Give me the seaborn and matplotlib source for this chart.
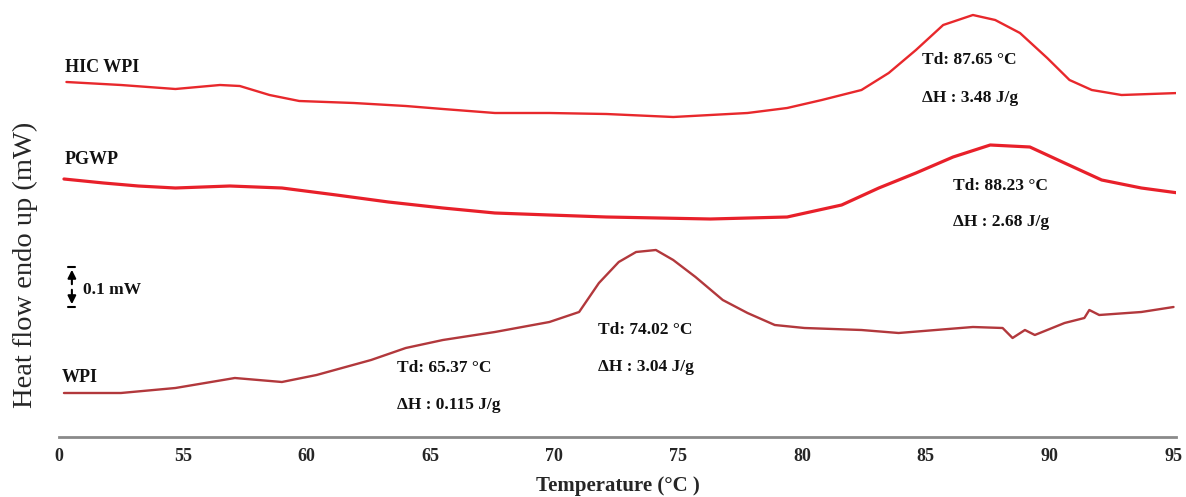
import matplotlib
matplotlib.use("Agg")
import matplotlib.pyplot as plt
import seaborn as sns

# ---- data (temperature in degC, heat flow in arbitrary plot units) ----
hic_temp = [50.3, 52.5, 54.7, 56.5, 57.3, 58.5, 59.7, 61.9, 64.0, 65.5, 67.6, 69.8,
            72.1, 74.8, 77.8, 79.4, 80.8, 82.4, 83.5, 84.6, 85.7, 86.9, 87.8, 88.8,
            89.9, 90.8, 91.7, 92.9, 95.2]
hic_flow = [355, 352, 348, 352, 351, 342, 336, 334, 331, 328, 324, 324,
            323, 320, 324, 329, 337, 347, 364, 387, 412, 422, 417, 404,
            379, 357, 347, 342, 344]

pgwp_temp = [50.2, 51.8, 53.2, 54.7, 56.9, 59.0, 61.2, 63.3, 65.5, 67.6, 69.8, 72.1,
             76.3, 79.4, 81.6, 83.1, 84.6, 86.1, 87.6, 89.2, 90.6, 92.1, 93.7, 95.2]
pgwp_flow = [258, 254, 251, 249, 251, 249, 242, 235, 229, 224, 222, 220,
             218, 220, 232, 249, 264, 280, 292, 290, 274, 257, 249, 244]

wpi_temp = [50.2, 52.5, 54.7, 57.1, 59.0, 60.4, 62.6, 64.0, 65.5, 67.6, 69.8, 71.0,
            71.8, 72.6, 73.3, 74.1, 74.8, 75.7, 76.8, 77.8, 78.9, 80.1, 82.4, 83.9,
            85.4, 86.9, 88.1, 88.5, 89.0, 89.4, 90.6, 91.4, 91.6, 92.0, 93.7, 95.0]
wpi_flow = [44, 44, 49, 59, 55, 62, 77, 89, 97, 105, 115, 125,
            154, 175, 185, 187, 177, 160, 137, 124, 112, 109, 107, 104,
            107, 110, 109, 99, 107, 102, 114, 119, 127, 122, 125, 130]

series_names = ["HIC WPI", "PGWP", "WPI"]
x_ticks = [50, 55, 60, 65, 70, 75, 80, 85, 90, 95]
x_tick_labels = ["0", "55", "60", "65", "70", "75", "80", "85", "90", "95"]

sns.set_style("white")
plt.rcParams["font.family"] = ["Liberation Serif", "DejaVu Serif"]

fig = plt.figure(figsize=(11.86, 4.97), dpi=100)
ax = fig.add_axes([59 / 1186, 60 / 497, (1176 - 59) / 1186, 437 / 497])

sns.lineplot(x=hic_temp, y=hic_flow, ax=ax, color="#e8282c", linewidth=1.7, sort=False)
sns.lineplot(x=pgwp_temp, y=pgwp_flow, ax=ax, color="#e8202a", linewidth=2.3, sort=False)
sns.lineplot(x=wpi_temp, y=wpi_flow, ax=ax, color="#b2383c", linewidth=1.7, sort=False)

ax.set_xlim(50, 95.1)
ax.set_ylim(0, 437)

for s in ["top", "right", "left"]:
    ax.spines[s].set_visible(False)
ax.spines["bottom"].set_color("#8a8a8a")
ax.spines["bottom"].set_linewidth(2)
ax.set_yticks([])
ax.set_xticks(x_ticks)
ax.set_xticklabels(x_tick_labels, fontweight="bold", fontsize=13)
ax.tick_params(axis="x", direction="out", length=3, width=1, color="#8a8a8a", pad=5)
ax.set_xlabel("Temperature (°C )", fontweight="bold", fontsize=15, labelpad=8)
fig.text(25 / 1186, 1 - 265 / 497, "Heat flow endo up (mW)", rotation=90,
         ha="center", va="center", fontsize=20.5)

# series labels
lab_kw = dict(fontsize=13, fontweight="bold", ha="left", va="center", color="#111111")
ax.text(50.24, 369, series_names[0], **lab_kw)
ax.text(50.24, 277, series_names[1], **lab_kw)
ax.text(50.12, 59, series_names[2], **lab_kw)

# annotations
ann_kw = dict(fontsize=12.5, fontweight="bold", ha="left", va="center", color="#111111")
ax.text(84.84, 377, "Td: 87.65 °C", **ann_kw)
ax.text(84.84, 339, "ΔH : 3.48 J/g", **ann_kw)
ax.text(86.09, 251, "Td: 88.23 °C", **ann_kw)
ax.text(86.09, 215, "ΔH : 2.68 J/g", **ann_kw)
ax.text(71.76, 107, "Td: 74.02 °C", **ann_kw)
ax.text(71.76, 70, "ΔH : 3.04 J/g", **ann_kw)
ax.text(63.65, 69, "Td: 65.37 °C", **ann_kw)
ax.text(63.65, 32, "ΔH : 0.115 J/g", **ann_kw)

# scale bar 0.1 mW
ax.annotate("", xy=(50.52, 130), xytext=(50.52, 150),
            arrowprops=dict(arrowstyle="-|>", color="black", lw=1.5, mutation_scale=12))
ax.annotate("", xy=(50.52, 170), xytext=(50.52, 150),
            arrowprops=dict(arrowstyle="-|>", color="black", lw=1.5, mutation_scale=12))
ax.plot([50.38, 50.66], [170, 170], color="black", lw=1.5)
ax.plot([50.38, 50.66], [130, 130], color="black", lw=1.5)
ax.text(50.95, 147, "0.1 mW", fontsize=12.5, fontweight="bold", ha="left", va="center",
        color="#111111")

fig.savefig("out.png", dpi=100)
